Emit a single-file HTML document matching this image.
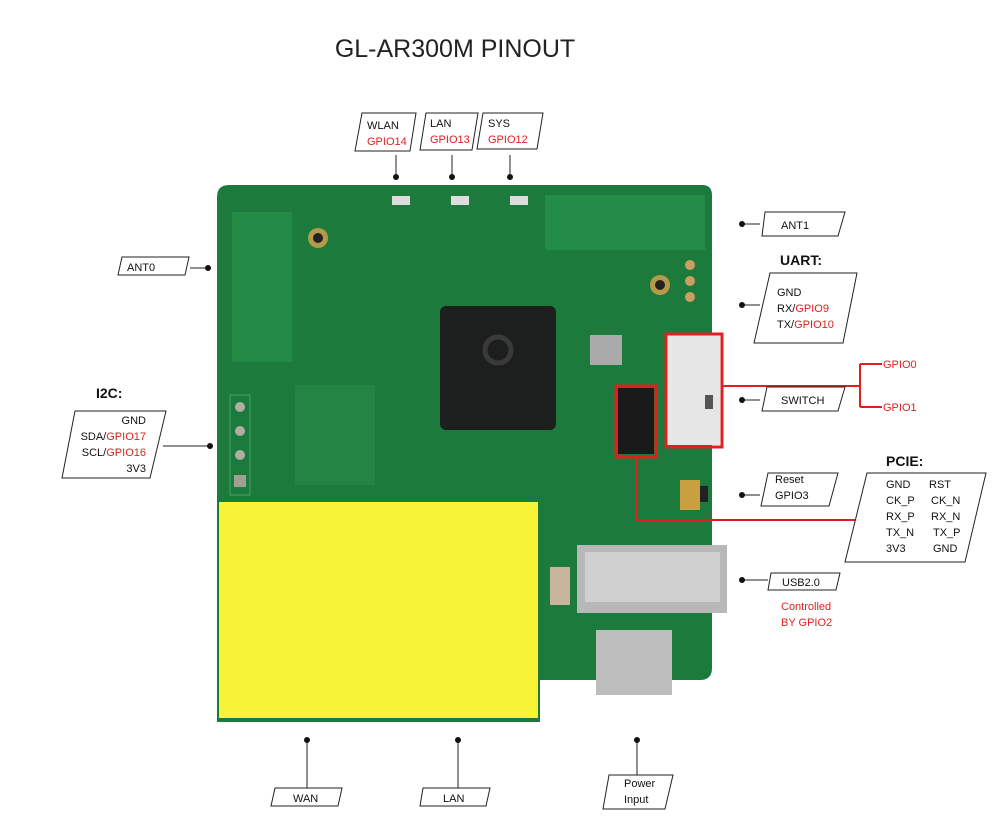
<!DOCTYPE html>
<html><head><style>
body{margin:0;background:#fff;}
svg{display:block;font-family:"Liberation Sans",Arial,sans-serif;}
</style></head><body>
<svg width="1008" height="817" viewBox="0 0 1008 817" xmlns="http://www.w3.org/2000/svg">
<text x="455" y="57" font-size="25" text-anchor="middle" fill="#222">GL-AR300M PINOUT</text>

<!-- board -->
<path d="M229,185 H702 Q712,185 712,195 V668 Q712,680 700,680 H540 V722 H217 V197 Q217,185 229,185 Z" fill="#1b7a3c"/>
<rect x="232" y="212" width="60" height="150" fill="#228a45"/>
<rect x="545" y="195" width="160" height="55" fill="#238d48"/>
<rect x="295" y="385" width="80" height="100" fill="#2a8a4a" opacity="0.6"/>
<!-- chip -->
<rect x="440" y="306" width="116" height="124" rx="6" fill="#1d1f1f"/>
<circle cx="498" cy="350" r="13" fill="none" stroke="#3a3a3a" stroke-width="5"/>
<rect x="590" y="335" width="32" height="30" fill="#aaa"/>
<!-- antenna connectors -->
<circle cx="318" cy="238" r="10" fill="#b59a4a"/><circle cx="318" cy="238" r="5" fill="#222"/>
<circle cx="660" cy="285" r="10" fill="#b59a4a"/><circle cx="660" cy="285" r="5" fill="#222"/>
<!-- LEDs -->
<rect x="392" y="196" width="18" height="9" fill="#ddd"/>
<rect x="451" y="196" width="18" height="9" fill="#ddd"/>
<rect x="510" y="196" width="18" height="9" fill="#ddd"/>
<!-- UART pins -->
<circle cx="690" cy="265" r="5" fill="#c8a060"/><circle cx="690" cy="281" r="5" fill="#c8a060"/><circle cx="690" cy="297" r="5" fill="#c8a060"/>
<!-- I2C pins -->
<rect x="230" y="395" width="20" height="100" fill="none" stroke="#4aa06a"/>
<circle cx="240" cy="407" r="5" fill="#b0b0a0"/><circle cx="240" cy="431" r="5" fill="#b0b0a0"/><circle cx="240" cy="455" r="5" fill="#b0b0a0"/><rect x="234" y="475" width="12" height="12" fill="#a0a090"/>
<!-- switch -->
<rect x="667" y="335" width="53" height="110" fill="#e6e6e6"/>
<rect x="705" y="395" width="8" height="14" fill="#555"/>
<!-- pcie header -->
<rect x="618" y="388" width="36" height="66" fill="#1a1a1a"/>
<!-- reset -->
<rect x="680" y="480" width="20" height="30" fill="#c8a040"/><rect x="700" y="486" width="8" height="16" fill="#222"/>
<!-- USB A -->
<rect x="577" y="545" width="150" height="68" fill="#b8b8b8"/>
<rect x="585" y="552" width="135" height="50" fill="#cfcfcf"/>
<!-- micro usb -->
<rect x="596" y="630" width="76" height="65" fill="#bdbdbd"/>
<rect x="550" y="567" width="20" height="38" fill="#c7b49a"/>
<!-- yellow sticker -->
<rect x="219" y="502" width="319" height="216" fill="#f7f336"/>

<!-- red highlights -->
<g stroke="#e02020" fill="none">
<rect x="666" y="334" width="56" height="113" stroke-width="3"/>
<rect x="616" y="386" width="40" height="71" stroke-width="3"/>
<path d="M722,386 H860 M860,364 V407 M860,364 H882 M860,407 H882" stroke-width="2"/>
<path d="M636,457 V520 H855" stroke-width="2"/>
</g>
<text x="883" y="368" font-size="11" fill="#e02020">GPIO0</text>
<text x="883" y="411" font-size="11" fill="#e02020">GPIO1</text>

<g stroke="#222" stroke-width="1" fill="#fff">
<polygon points="362,113 416,113 410,151 355,151"/>
<polygon points="426,113 478,113 472,150 420,150"/>
<polygon points="483,113 543,113 537,149 477,149"/>
<line x1="396" y1="155" x2="396" y2="176"/><line x1="452" y1="155" x2="452" y2="176"/><line x1="510" y1="155" x2="510" y2="176"/>
<polygon points="122,257 189,257 185,275 118,275"/>
<line x1="190" y1="268" x2="208" y2="268"/>
<polygon points="75,411 166,411 150,478 62,478"/>
<line x1="163" y1="446" x2="210" y2="446"/>
<polygon points="765,212 845,212 838,236 762,236"/>
<line x1="742" y1="224" x2="760" y2="224"/>
<polygon points="770,273 857,273 843,343 754,343"/>
<line x1="742" y1="305" x2="760" y2="305"/>
<polygon points="767,387 845,387 838,411 762,411"/>
<line x1="742" y1="400" x2="760" y2="400"/>
<polygon points="768,473 838,473 829,506 761,506"/>
<line x1="742" y1="495" x2="760" y2="495"/>
<polygon points="867,473 986,473 965,562 845,562"/>
<polygon points="771,573 840,573 836,590 768,590"/>
<line x1="742" y1="580" x2="768" y2="580"/>
<line x1="307" y1="740" x2="307" y2="788"/><line x1="458" y1="740" x2="458" y2="788"/><line x1="637" y1="740" x2="637" y2="775"/>
<polygon points="275,788 342,788 338,806 271,806"/>
<polygon points="423,788 490,788 486,806 420,806"/>
<polygon points="609,775 673,775 665,809 603,809"/>
</g>
<g fill="#111">
<circle cx="396" cy="177" r="3"/><circle cx="452" cy="177" r="3"/><circle cx="510" cy="177" r="3"/>
<circle cx="208" cy="268" r="3"/><circle cx="210" cy="446" r="3"/>
<circle cx="742" cy="224" r="3"/><circle cx="742" cy="305" r="3"/><circle cx="742" cy="400" r="3"/><circle cx="742" cy="495" r="3"/><circle cx="742" cy="580" r="3"/>
<circle cx="307" cy="740" r="3"/><circle cx="458" cy="740" r="3"/><circle cx="637" cy="740" r="3"/>
</g>

<g font-size="11" fill="#111">
<text x="367" y="129">WLAN</text><text x="367" y="145" fill="#e02020">GPIO14</text>
<text x="430" y="127">LAN</text><text x="430" y="143" fill="#e02020">GPIO13</text>
<text x="488" y="127">SYS</text><text x="488" y="143" fill="#e02020">GPIO12</text>
<text x="127" y="271">ANT0</text>
<text x="96" y="398" font-size="14" font-weight="bold">I2C:</text>
<text x="146" y="424" text-anchor="end">GND</text>
<text x="146" y="440" text-anchor="end">SDA/<tspan fill="#e02020">GPIO17</tspan></text>
<text x="146" y="456" text-anchor="end">SCL/<tspan fill="#e02020">GPIO16</tspan></text>
<text x="146" y="472" text-anchor="end">3V3</text>
<text x="781" y="229">ANT1</text>
<text x="780" y="265" font-size="14" font-weight="bold">UART:</text>
<text x="777" y="296">GND</text>
<text x="777" y="312">RX/<tspan fill="#e02020">GPIO9</tspan></text>
<text x="777" y="328">TX/<tspan fill="#e02020">GPIO10</tspan></text>
<text x="781" y="404">SWITCH</text>
<text x="775" y="483">Reset</text><text x="775" y="499">GPIO3</text>
<text x="886" y="466" font-size="14" font-weight="bold">PCIE:</text>
<text x="886" y="488">GND</text><text x="929" y="488">RST</text>
<text x="886" y="504">CK_P</text><text x="931" y="504">CK_N</text>
<text x="886" y="520">RX_P</text><text x="931" y="520">RX_N</text>
<text x="886" y="536">TX_N</text><text x="933" y="536">TX_P</text>
<text x="886" y="552">3V3</text><text x="933" y="552">GND</text>
<text x="782" y="586">USB2.0</text>
<text x="781" y="610" fill="#e02020">Controlled</text>
<text x="781" y="626" fill="#e02020">BY GPIO2</text>
<text x="293" y="802">WAN</text>
<text x="443" y="802">LAN</text>
<text x="624" y="787">Power</text><text x="624" y="803">Input</text>
</g>
</svg>
</body></html>
